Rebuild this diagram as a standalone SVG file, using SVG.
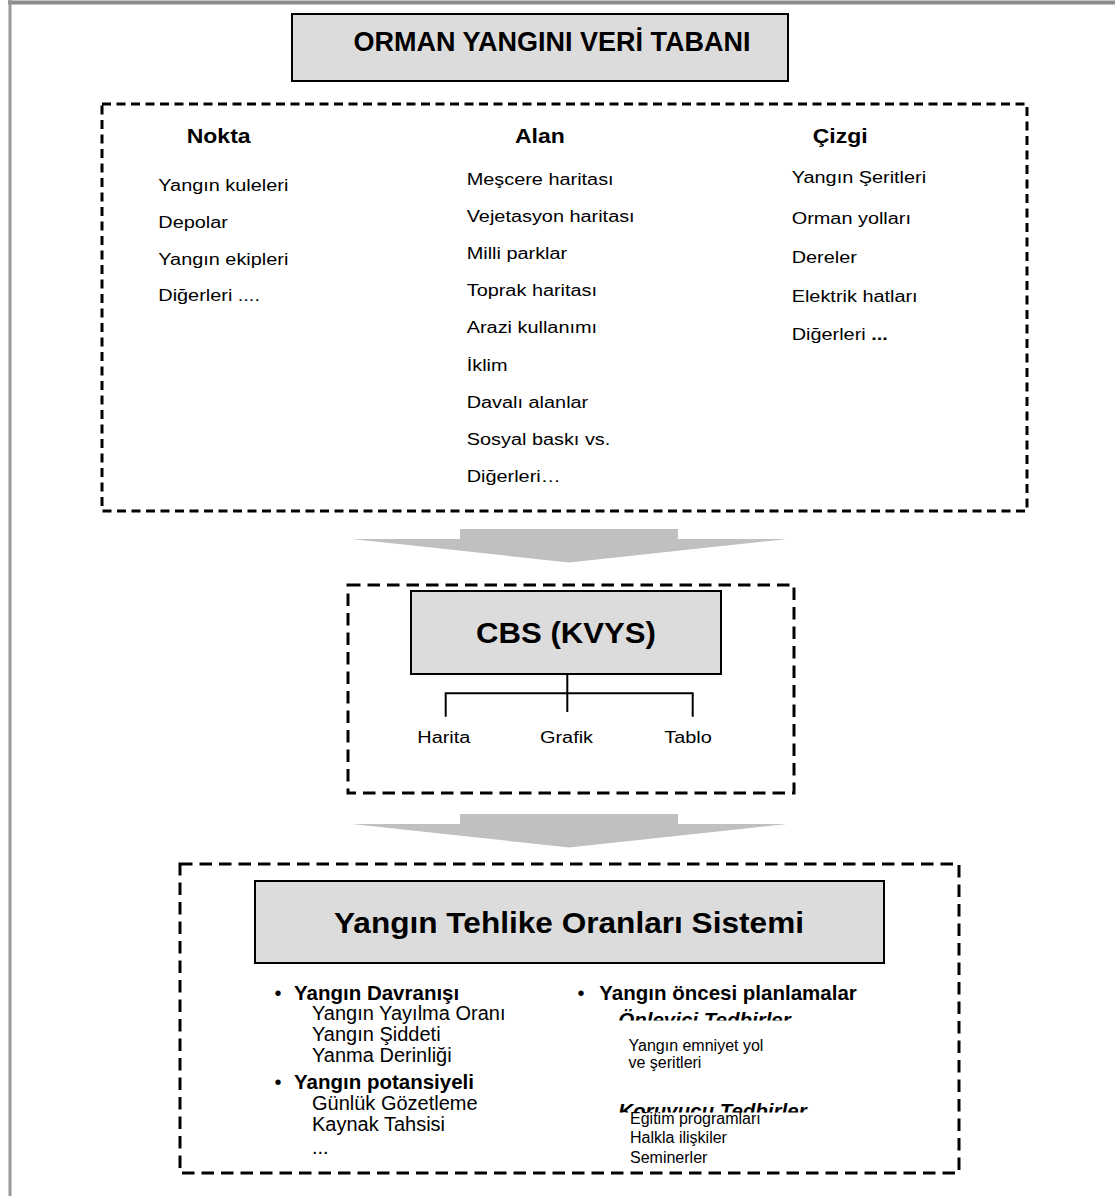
<svg xmlns="http://www.w3.org/2000/svg" width="1115" height="1196" viewBox="0 0 1115 1196">
<defs>
<style>
text{font-family:"Liberation Sans",Arial,sans-serif;fill:#000}
.hd{font-size:20px;font-weight:bold}
.it{font-size:17.3px}
.b20{font-size:20.5px;font-weight:bold}
.r20{font-size:20px}
.r16{font-size:16px}
.bi{font-size:20.5px;font-weight:bold;font-style:italic}
.title{fill:#dcdcdc;stroke:#000;stroke-width:2}
.dash1{fill:none;stroke:#000;stroke-width:3;stroke-dasharray:9 5.5}
.dash2{fill:none;stroke:#000;stroke-width:3;stroke-dasharray:12.5 7}
.arrow{fill:#c0c0c0}
.tree{fill:none;stroke:#000;stroke-width:2}
</style>
<clipPath id="clipA"><rect x="600" y="995" width="300" height="25.5"/></clipPath>
<clipPath id="clipB"><rect x="600" y="1090" width="300" height="22.5"/></clipPath>
</defs>
<rect width="1115" height="1196" fill="#fff"/>
<g id="frame">
<line x1="8" y1="2.5" x2="1115" y2="2.5" stroke="#8c8c8c" stroke-width="4"/>
<line x1="10" y1="0" x2="10" y2="1196" stroke="#999" stroke-width="3"/>
</g>
<g id="node-title">
<rect class="title" x="292" y="14" width="496" height="67"/>
<text x="552" y="50.5" text-anchor="middle" style="font-size:27px;font-weight:bold">ORMAN YANGINI VERİ TABANI</text>
</g>
<g id="node-database">
<rect class="dash1" x="102" y="104" width="925" height="407"/>
<text class="hd" transform="translate(186.7 143) scale(1.15 1)">Nokta</text>
<text class="it" transform="translate(158.3 191) scale(1.15 1)">Yangın kuleleri</text>
<text class="it" transform="translate(158.3 228) scale(1.15 1)">Depolar</text>
<text class="it" transform="translate(158.3 264.5) scale(1.15 1)">Yangın ekipleri</text>
<text class="it" transform="translate(158.3 301) scale(1.15 1)">Diğerleri ....</text>
<text class="hd" transform="translate(515 143) scale(1.15 1)">Alan</text>
<text class="it" transform="translate(466.7 185) scale(1.15 1)">Meşcere haritası</text>
<text class="it" transform="translate(466.7 222) scale(1.15 1)">Vejetasyon haritası</text>
<text class="it" transform="translate(466.7 258.5) scale(1.15 1)">Milli parklar</text>
<text class="it" transform="translate(466.7 295.5) scale(1.15 1)">Toprak haritası</text>
<text class="it" transform="translate(466.7 332.5) scale(1.15 1)">Arazi kullanımı</text>
<text class="it" transform="translate(466.7 370.5) scale(1.15 1)">İklim</text>
<text class="it" transform="translate(466.7 407.5) scale(1.15 1)">Davalı alanlar</text>
<text class="it" transform="translate(466.7 444.5) scale(1.15 1)">Sosyal baskı vs.</text>
<text class="it" transform="translate(466.7 481.5) scale(1.15 1)">Diğerleri…</text>
<text class="hd" transform="translate(812.7 143) scale(1.15 1)">Çizgi</text>
<text class="it" transform="translate(791.7 183) scale(1.15 1)">Yangın Şeritleri</text>
<text class="it" transform="translate(791.7 224) scale(1.15 1)">Orman yolları</text>
<text class="it" transform="translate(791.7 263.3) scale(1.15 1)">Dereler</text>
<text class="it" transform="translate(791.7 301.7) scale(1.15 1)">Elektrik hatları</text>
<text class="it" transform="translate(791.7 340) scale(1.15 1)">Diğerleri <tspan font-weight="bold">...</tspan></text>
</g>
<g id="node-cbs">
<rect class="dash2" x="348" y="585" width="446" height="208"/>
<rect class="title" x="411" y="591" width="310" height="83"/>
<text x="566" y="643" text-anchor="middle" textLength="180" lengthAdjust="spacingAndGlyphs" style="font-size:29px;font-weight:bold">CBS (KVYS)</text>
<text class="it" transform="translate(417.3 743.3) scale(1.15 1)">Harita</text>
<text class="it" transform="translate(540 743.3) scale(1.15 1)">Grafik</text>
<text class="it" transform="translate(664.3 743.3) scale(1.15 1)">Tablo</text>
</g>
<g id="node-system">
<rect class="dash2" x="180" y="864" width="779" height="309"/>
<rect class="title" x="255" y="881" width="629" height="82"/>
<text x="569" y="933" text-anchor="middle" textLength="470" lengthAdjust="spacingAndGlyphs" style="font-size:30px;font-weight:bold">Yangın Tehlike Oranları Sistemi</text>
<text class="r20" x="274.5" y="999.5">•</text>
<text class="b20" x="294" y="999.5">Yangın Davranışı</text>
<text class="r20" x="312" y="1020">Yangın Yayılma Oranı</text>
<text class="r20" x="312" y="1040.5">Yangın Şiddeti</text>
<text class="r20" x="312" y="1061.5">Yanma Derinliği</text>
<text class="r20" x="274.5" y="1088.5">•</text>
<text class="b20" x="294" y="1088.5">Yangın potansiyeli</text>
<text class="r20" x="312" y="1110">Günlük Gözetleme</text>
<text class="r20" x="312" y="1131">Kaynak Tahsisi</text>
<text class="r20" x="312" y="1154">...</text>
<text class="r20" x="577.5" y="1000">•</text>
<text class="b20" x="599.3" y="1000">Yangın öncesi planlamalar</text>
<text class="bi" x="618.3" y="1027" clip-path="url(#clipA)">Önleyici Tedbirler</text>
<text class="r16" x="628.5" y="1051">Yangın emniyet yol</text>
<text class="r16" x="628.5" y="1068">ve şeritleri</text>
<text class="bi" x="618.3" y="1118" clip-path="url(#clipB)">Koruyucu Tedbirler</text>
<text class="r16" x="630" y="1123.5">Eğitim programları</text>
<text class="r16" x="630" y="1142.5">Halkla ilişkiler</text>
<text class="r16" x="630" y="1162.5">Seminerler</text>
</g>
<g id="connectors">
<polygon class="arrow" points="460,529 678,529 678,539 787,539 569,562.5 352,539 460,539"/>
<polygon class="arrow" points="460,814 678,814 678,824 787,824 569,847.5 352,824 460,824"/>
<path class="tree" d="M567.3 674 V712 M445.7 716.7 V693.3 H692.7 V716.7"/>
</g>
</svg>
